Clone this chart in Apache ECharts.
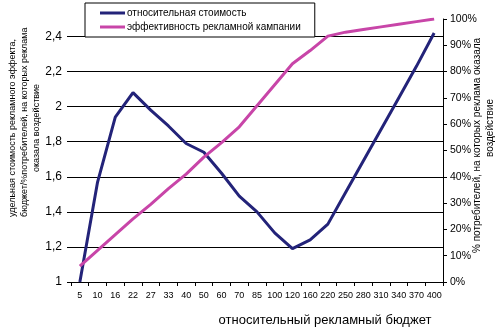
<!DOCTYPE html>
<html><head><meta charset="utf-8">
<script src="https://cdn.jsdelivr.net/npm/echarts@6/dist/echarts.min.js"></script>
<style>html,body{margin:0;padding:0;background:#fff}#c{width:500px;height:332px}</style>
</head><body><div id="c"></div>
<script>
var categories = ['5','10','16','22','27','33','40','50','60','70','85','100','120','160','220','250','280','310','340','370','400'];
var costValues = [1.0,1.57,1.94,2.08,1.98,1.89,1.79,1.74,1.62,1.49,1.40,1.28,1.19,1.24,1.33,1.51,1.69,1.87,2.05,2.23,2.42];
var effValues = [6,12,18,24,29.5,35.5,41,47.5,53,59,67,75,83,88,93.5,95,96,97,98,99,100];
var leftTicks = [1,1.2,1.4,1.6,1.8,2,2.2,2.4];
var seriesNames = ['относительная стоимость','эффективность рекламной кампании'];
var xTitle = 'относительный рекламный бюджет';
var leftTitleLines = ['удельная стоимость рекламного эффекта,','бюджет/%потребителей, на которых реклама','оказала воздействие'];
var rightTitleLines = ['% потребителей, на которых реклама оказала','воздействие'];

var FONT = 'Liberation Sans, Arial, sans-serif';
var chart = echarts.init(document.getElementById('c'), null, {renderer:'canvas'});
var gridColors = ['#000','#000','#000','#000','#000','#000','#000','#000','#a0a0a0'];
chart.setOption({
  animation:false,
  backgroundColor:'#fff',
  grid:{left:71,right:57,top:19,bottom:50,containLabel:false},
  legend:{
    orient:'vertical', left:85, top:3,
    data:seriesNames,
    icon:'rect',
    itemWidth:25, itemHeight:3, itemGap:4,
    padding:[5,14,5,15],
    backgroundColor:'#fff', borderColor:'#000', borderWidth:1, borderRadius:0,
    textStyle:{fontSize:10, color:'#000', fontFamily:FONT, padding:[0,0,0,-3]},
    z:10
  },
  xAxis:{
    type:'category', data:categories, boundaryGap:true,
    axisLine:{lineStyle:{color:'#000',width:1}},
    axisTick:{show:true, interval:0, length:4, lineStyle:{color:'#000'}},
    axisLabel:{interval:0, fontSize:9, color:'#000', fontFamily:FONT, margin:9, hideOverlap:false},
    splitLine:{show:false}
  },
  yAxis:[{
    type:'value', min:1, max:2.5, interval:0.2, position:'left',
    axisLine:{show:false},
    axisTick:{show:true, length:4, customValues:leftTicks, lineStyle:{color:'#000'}},
    axisLabel:{fontSize:12, color:'#000', fontFamily:FONT, margin:9, customValues:leftTicks,
      formatter:function(v){ return String(+(+v).toFixed(1)).replace('.',','); }},
    splitLine:{show:true, lineStyle:{color:gridColors, width:1}}
  },{
    type:'value', min:0, max:100, interval:10, position:'right',
    axisLine:{show:true, lineStyle:{color:'#000',width:1}},
    axisTick:{show:true, length:4, lineStyle:{color:'#000'}},
    axisLabel:{fontSize:10.5, color:'#000', fontFamily:FONT, margin:7, formatter:'{value}%'},
    splitLine:{show:false}
  }],
  series:[{
    name:seriesNames[0], type:'line', data:costValues, yAxisIndex:0,
    symbol:'none', lineStyle:{color:'#232379', width:3}, itemStyle:{color:'#232379'}
  },{
    name:seriesNames[1], type:'line', data:effValues, yAxisIndex:1,
    symbol:'none', lineStyle:{color:'#c845a8', width:3}, itemStyle:{color:'#c845a8'}
  }],
  graphic:[
    {type:'text', x:325, y:320, style:{text:xTitle, fontSize:13, fill:'#000', fontFamily:FONT, align:'center', verticalAlign:'middle'}},
    {type:'text', x:13, y:217, rotation:Math.PI/2, style:{text:leftTitleLines[0], fontSize:9, fill:'#000', fontFamily:FONT, align:'left', verticalAlign:'middle'}},
    {type:'text', x:25, y:217, rotation:Math.PI/2, style:{text:leftTitleLines[1], fontSize:9, fill:'#000', fontFamily:FONT, align:'left', verticalAlign:'middle'}},
    {type:'text', x:37, y:128, rotation:Math.PI/2, style:{text:leftTitleLines[2], fontSize:9, fill:'#000', fontFamily:FONT, align:'center', verticalAlign:'middle'}},
    {type:'text', x:477, y:253, rotation:Math.PI/2, style:{text:rightTitleLines[0], fontSize:10, fill:'#000', fontFamily:FONT, align:'left', verticalAlign:'middle'}},
    {type:'text', x:490, y:128, rotation:Math.PI/2, style:{text:rightTitleLines[1], fontSize:10, fill:'#000', fontFamily:FONT, align:'center', verticalAlign:'middle'}}
  ]
});
</script></body></html>
